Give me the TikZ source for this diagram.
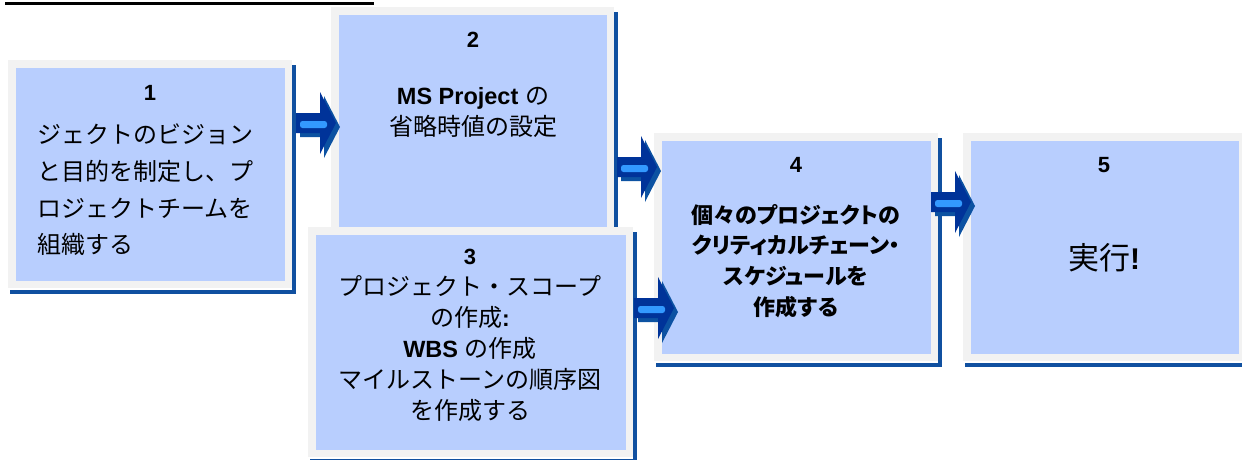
\documentclass[tikz,border=0pt]{standalone}
\usepackage{fontspec}
\setmainfont{Liberation Sans}
\newfontfamily\jp{Noto Sans CJK JP}
\newfontfamily\jpp[RawFeature=+palt]{Noto Sans CJK JP}
\usetikzlibrary{calc}
\definecolor{boxblue}{RGB}{184,206,254}
\definecolor{framegrey}{RGB}{242,242,242}
\definecolor{boxshadow}{RGB}{16,80,160}
\definecolor{arrmain}{RGB}{0,51,153}
\definecolor{arrshadow}{RGB}{12,82,162}
\definecolor{arrlight}{RGB}{51,153,255}
\tikzset{
  pboxst/.style={draw=framegrey, fill=boxblue, line width=7.5pt, inner sep=0pt, outer sep=0pt},
  num/.style={inner sep=0pt, font=\fontsize{22}{22}\selectfont\bfseries},
  txt/.style={inner sep=0pt, align=center},
}
\newcommand\pbox[5]{%
  \fill[boxshadow] (#2+2,#5+2) rectangle (#4+3.5,#5+6);
  \fill[boxshadow] (#4-0.5,#3+5) rectangle (#4+3.5,#5+6);
  \node[pboxst, minimum width={(#4-#2-7.5)*1pt}, minimum height={(#5-#3-7.5)*1pt}] (#1) at ({(#2+#4)/2},{(#3+#5)/2}) {};
}
\newcommand\blockarrow[1]{%
  \begin{scope}[shift={(#1)}]
    \fill[arrshadow] (4,-6) -- (28,-6) -- (28,-27) -- (44,4) -- (28,35) -- (28,14) -- (4,14) -- cycle;
    \fill[arrmain] (0,-10) -- (24,-10) -- (24,-31) -- (40,0) -- (24,31) -- (24,10) -- (0,10) -- cycle;
    \fill[arrlight, rounded corners=2.5pt] (4,-2) -- (31,-2) -- (31,5) -- (4,5) -- cycle;
  \end{scope}
}
\begin{document}
\begin{tikzpicture}[x=1pt,y=-1pt]
\useasboundingbox (0,0) rectangle (1242,459);
\clip (0,0) rectangle (1242,459);
\draw[line width=2.5pt] (5,3.5) -- (374,3.5);
\pbox{b1}{8}{60}{292}{288}
\pbox{b2}{331}{7}{614}{235}
\pbox{b3}{308}{227}{633}{457}
\pbox{b4}{654}{133}{938}{361}
\pbox{b5}{963}{133}{1246}{361}
\coordinate (a1) at (296,123);
\coordinate (a2) at (617,167);
\coordinate (a3) at (634,308);
\coordinate (a4) at (931,202);
\blockarrow{a1}
\blockarrow{a2}
\blockarrow{a3}
\blockarrow{a4}
\node[num] (n1) at (150,93) {1};
\node[txt, align=left, anchor=west, font=\jp\fontsize{24}{36.7}\selectfont] (t1) at (37,190) {ジェクトのビジョン\\と目的を制定し、プ\\ロジェクトチームを\\組織する};
\node[num] (n2) at (473,40) {2};
\node[txt, font=\fontsize{24}{31}\selectfont] (t2) at (473,112.5) {{\fontsize{23.5}{31}\selectfont\bfseries MS Project} {\jp の}\\{\jp 省略時値の設定}};
\node[txt, font=\fontsize{24}{31}\selectfont] (t3) at (470,335.5) {{\fontsize{22}{31}\selectfont\bfseries 3}\\{\jp プロジェクト・スコープ}\\{\jp の作成}{\fontsize{23}{31}\selectfont\bfseries :}\\{\fontsize{23.5}{31}\selectfont\bfseries WBS} {\jp の作成}\\{\jp マイルストーンの順序図}\\{\jp を作成する}};
\node[num] (n4) at (796,165) {4};
\node[txt, font=\jpp\bfseries\fontsize{22}{30.7}\selectfont] (t4) at (796,261) {個々のプロジェクトの\\クリティカルチェーン・\\スケジュールを\\作成する};
\node[num] (n5) at (1104,165) {5};
\node[txt] (t5) at (1104,258) {{\jp\fontsize{31}{31}\selectfont 実行}{\fontsize{30}{31}\selectfont\bfseries !}};
\end{tikzpicture}
\end{document}
